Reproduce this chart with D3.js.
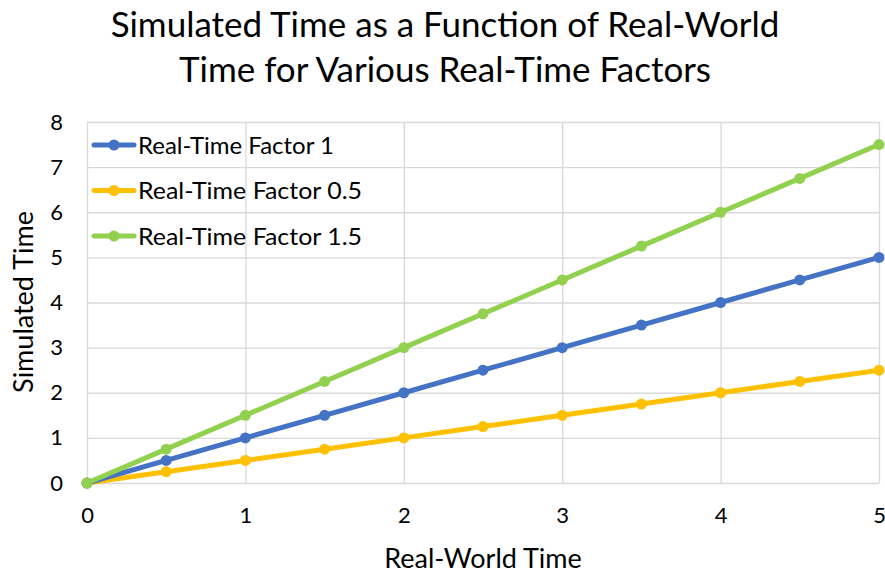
<!DOCTYPE html>
<html>
<head>
<meta charset="utf-8">
<script src="https://cdn.jsdelivr.net/npm/d3@7"></script>
<style>
  body { margin: 0; background: #fff; }
  text { font-family: Lato, "Open Sans", sans-serif; fill: #000; }
</style>
</head>
<body>
<div id="chart"></div>
<script>
const realWorldTime = [0, 0.5, 1, 1.5, 2, 2.5, 3, 3.5, 4, 4.5, 5];
const factor1 = [0, 0.5, 1, 1.5, 2, 2.5, 3, 3.5, 4, 4.5, 5];
const factor05 = [0, 0.25, 0.5, 0.75, 1, 1.25, 1.5, 1.75, 2, 2.25, 2.5];
const factor15 = [0, 0.75, 1.5, 2.25, 3, 3.75, 4.5, 5.25, 6, 6.75, 7.5];
const xTicks = [0, 1, 2, 3, 4, 5];
const yTicks = [0, 1, 2, 3, 4, 5, 6, 7, 8];
const seriesNames = ['Real-Time Factor 1', 'Real-Time Factor 0.5', 'Real-Time Factor 1.5'];
const seriesColors = ['#4472c4', '#ffc000', '#92d050'];

const fullWidth = 885,
    fullHeight = 574,
    margin = { top: 122, right: 6, bottom: 91, left: 87 },
    width = fullWidth - margin.left - margin.right,
    height = fullHeight - margin.top - margin.bottom;

const svg = d3.select('#chart')
    .append('svg')
        .attr('width', fullWidth)
        .attr('height', fullHeight);

const g = svg.append('g')
    .attr('transform', `translate(${margin.left}, ${margin.top})`);

const x = d3.scaleLinear().domain([0, 5]).range([0, width]);
const y = d3.scaleLinear().domain([0, 8]).range([height, 0]);

// grid
g.append('g')
    .call(d3.axisLeft(y).tickValues(yTicks).tickSize(-width).tickFormat(''))
    .call(a => a.select('.domain').remove())
    .call(a => a.selectAll('line').attr('stroke', '#d9d9d9').attr('stroke-width', 1.3));

g.append('g')
    .attr('transform', `translate(0, ${height})`)
    .call(d3.axisBottom(x).tickValues(xTicks).tickSize(-height).tickFormat(''))
    .call(a => a.select('.domain').remove())
    .call(a => a.selectAll('line').attr('stroke', '#d9d9d9').attr('stroke-width', 1.3));

// tick labels
g.append('g')
    .call(d3.axisLeft(y).tickValues(yTicks).tickSize(0).tickPadding(24).tickFormat(d3.format('d')))
    .call(a => a.select('.domain').remove())
    .call(a => a.selectAll('text').attr('font-size', 22).attr('font-family', 'Lato').attr('fill', '#000'));

g.append('g')
    .attr('transform', `translate(0, ${height})`)
    .call(d3.axisBottom(x).tickValues(xTicks).tickSize(0).tickPadding(24).tickFormat(d3.format('d')))
    .call(a => a.select('.domain').remove())
    .call(a => a.selectAll('text').attr('font-size', 22).attr('font-family', 'Lato').attr('fill', '#000'));

// series
const series = [factor1, factor05, factor15].map((vals, i) => ({
    name: seriesNames[i],
    color: seriesColors[i],
    points: realWorldTime.map((t, j) => ({ x: t, y: vals[j] }))
}));

const line = d3.line().x(d => x(d.x)).y(d => y(d.y));

const drawOrder = [1, 0, 2];
drawOrder.forEach(i => {
    const s = series[i];
    g.append('path')
        .datum(s.points)
        .attr('fill', 'none')
        .attr('stroke', s.color)
        .attr('stroke-width', 5)
        .attr('stroke-linejoin', 'round')
        .attr('d', line);
    g.append('g').selectAll('circle')
        .data(s.points)
        .join('circle')
            .attr('cx', d => x(d.x))
            .attr('cy', d => y(d.y))
            .attr('r', 5.5)
            .attr('fill', s.color);
});

// legend
const legend = g.append('g').attr('transform', 'translate(7, 23)');
series.forEach((s, i) => {
    const row = legend.append('g').attr('transform', `translate(0, ${i * 45.5})`);
    row.append('line')
        .attr('x1', 0).attr('x2', 40)
        .attr('stroke', s.color).attr('stroke-width', 5)
        .attr('stroke-linecap', 'round');
    row.append('circle').attr('cx', 20).attr('r', 5.5).attr('fill', s.color);
    row.append('text')
        .attr('x', 44)
        .attr('dy', '0.36em')
        .attr('font-size', 24)
        .attr('lengthAdjust', 'spacingAndGlyphs')
        .attr('textLength', i === 0 ? 196 : 224)
        .text(s.name);
});

// titles
const title = svg.append('text')
    .attr('text-anchor', 'middle')
    .attr('font-size', 35)
    .attr('lengthAdjust', 'spacingAndGlyphs');
title.append('tspan').attr('x', 445).attr('y', 37).text('Simulated Time as a Function of Real-World');
title.append('tspan').attr('x', 445).attr('y', 82).text('Time for Various Real-Time Factors');

svg.append('text')
    .attr('x', margin.left + width / 2)
    .attr('y', 568)
    .attr('text-anchor', 'middle')
    .attr('font-size', 27)
    .text('Real-World Time');

svg.append('text')
    .attr('transform', `translate(33, 302) rotate(-90)`)
    .attr('text-anchor', 'middle')
    .attr('font-size', 27)
    .text('Simulated Time');
</script>
</body>
</html>
